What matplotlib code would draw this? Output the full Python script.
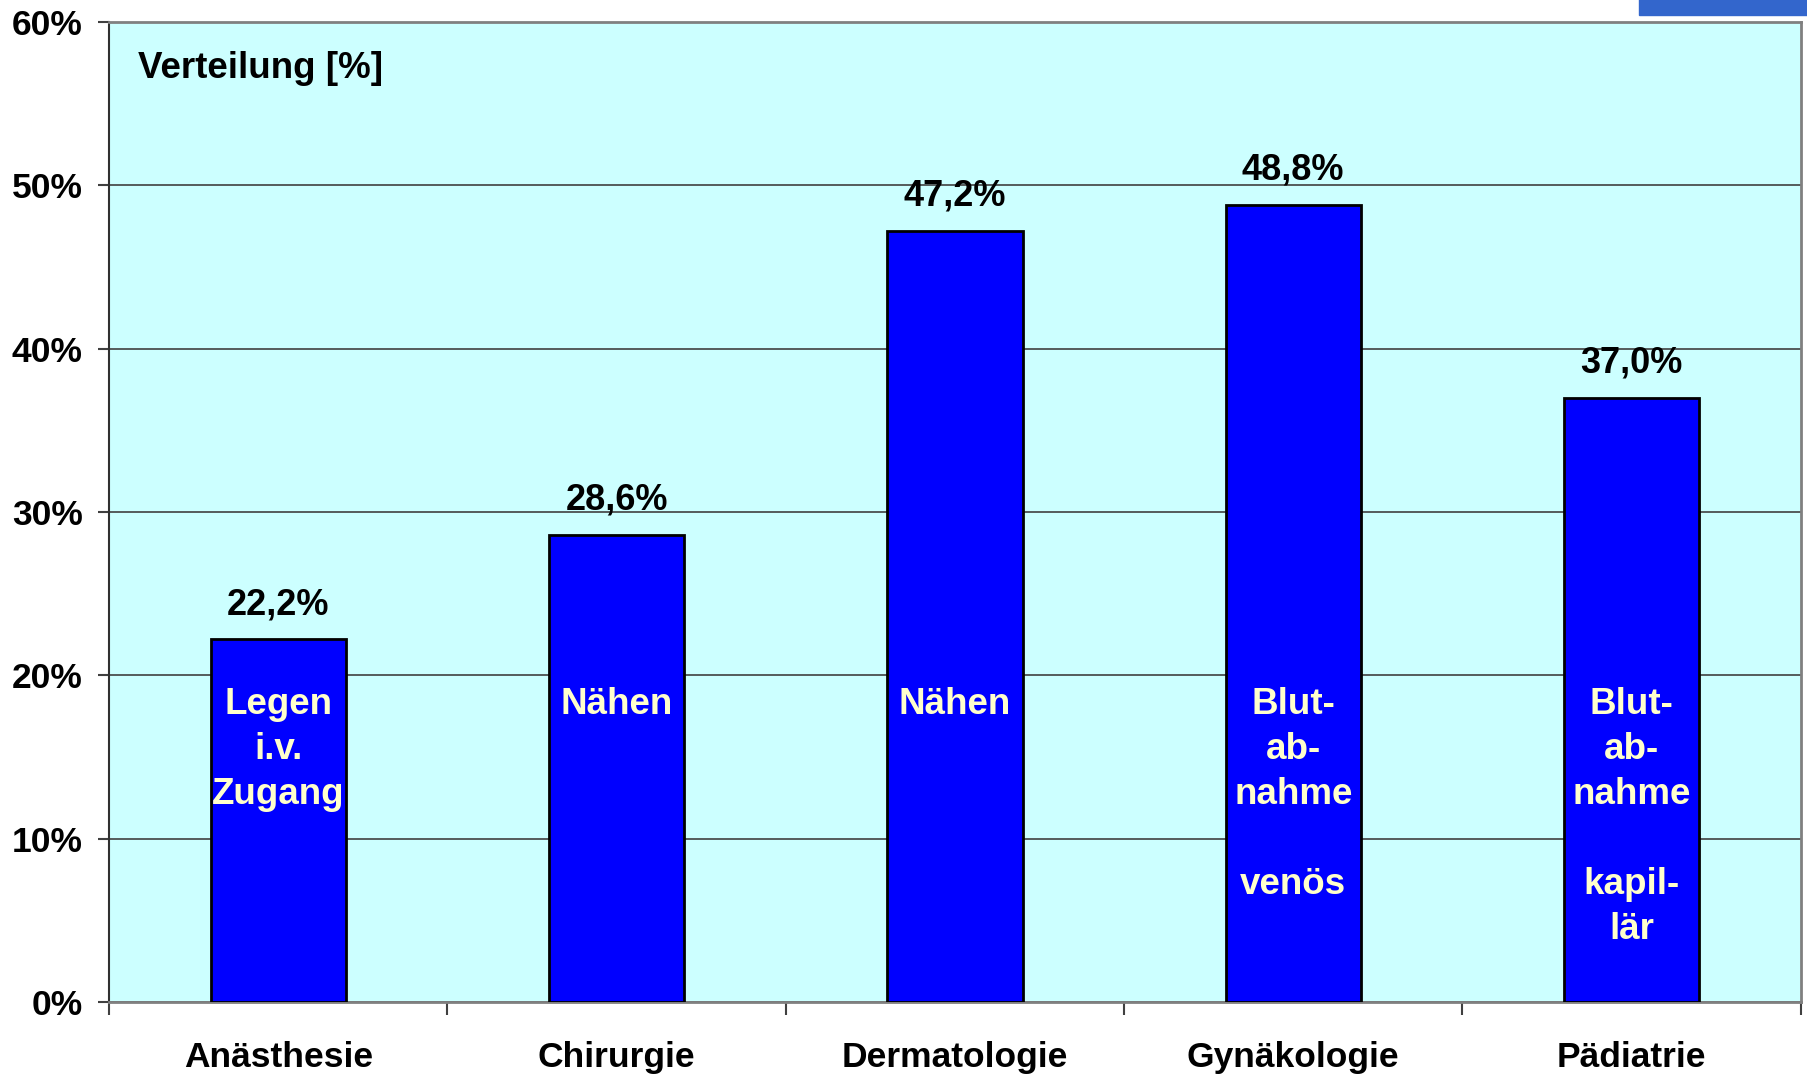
import numpy as np
import matplotlib.pyplot as plt
from matplotlib.patches import Rectangle

plt.rcParams['font.family'] = ['Liberation Sans', 'DejaVu Sans']
plt.rcParams['font.weight'] = 'bold'

faecher = ['Anästhesie', 'Chirurgie', 'Dermatologie', 'Gynäkologie', 'Pädiatrie']
anteil = [22.2, 28.6, 47.2, 48.8, 37.0]
werte_text = ['22,2%', '28,6%', '47,2%', '48,8%', '37,0%']
taetigkeit = ['Legen\ni.v.\nZugang', 'Nähen', 'Nähen',
              'Blut-\nab-\nnahme\n\nvenös', 'Blut-\nab-\nnahme\n\nkapil-\nlär']
y_ticks = [0, 10, 20, 30, 40, 50, 60]

fig = plt.figure(figsize=(18.08, 10.75), dpi=100)
ax = fig.add_axes([0.0603, 0.0679, 0.9357, 0.9116])
ax.set_facecolor('#ccffff')

x = np.arange(len(faecher))
ax.bar(x, anteil, width=0.40, color='#0000ff', edgecolor='black', linewidth=2, zorder=3)

for i in range(len(faecher)):
    ax.annotate(werte_text[i], (x[i], anteil[i]), xytext=(0, 25), textcoords='offset points',
                ha='center', va='center', fontsize=26, fontweight='bold', zorder=4)
    ax.text(x[i], 19.3, taetigkeit[i], ha='center', va='top', fontsize=26.5,
            fontweight='bold', color='#ffffcc', linespacing=1.37, zorder=4)

ax.set_xlim(-0.5, 4.5)
ax.set_ylim(0, 60)
ax.set_yticks(y_ticks)
ax.set_yticklabels([f'{t}%' for t in y_ticks], fontsize=25.5, fontweight='bold')
ax.yaxis.grid(True, color='#404040', linewidth=1.2, zorder=0)
ax.set_axisbelow(True)

# Striche zwischen den Kategorien, Beschriftung in der Mitte
ax.set_xticks(np.arange(-0.5, 5.0, 1.0))
ax.set_xticklabels([])
ax.set_xticks(x, minor=True)
ax.set_xticklabels(faecher, minor=True, fontsize=25.5, fontweight='bold')
ax.tick_params(axis='x', which='major', length=9, width=1.5, color='#404040', direction='out')
ax.tick_params(axis='x', which='minor', length=0, pad=28)
ax.tick_params(axis='y', length=8, width=1.5, color='#404040', pad=11)

for s in ['top', 'right', 'bottom']:
    ax.spines[s].set_color('#808080')
    ax.spines[s].set_linewidth(2)
ax.spines['left'].set_color('#303030')
ax.spines['left'].set_linewidth(1.5)

ax.text(0.017, 0.953, 'Verteilung [%]', transform=ax.transAxes, ha='left', va='center',
        fontsize=26.5, fontweight='bold')

# blaues Logo-Stück oben rechts
fig.patches.append(Rectangle((1639 / 1808, 1 - 15 / 1075), 1, 1, transform=fig.transFigure,
                             color='#3366cc', zorder=5))

fig.savefig('out.png', dpi=100)
